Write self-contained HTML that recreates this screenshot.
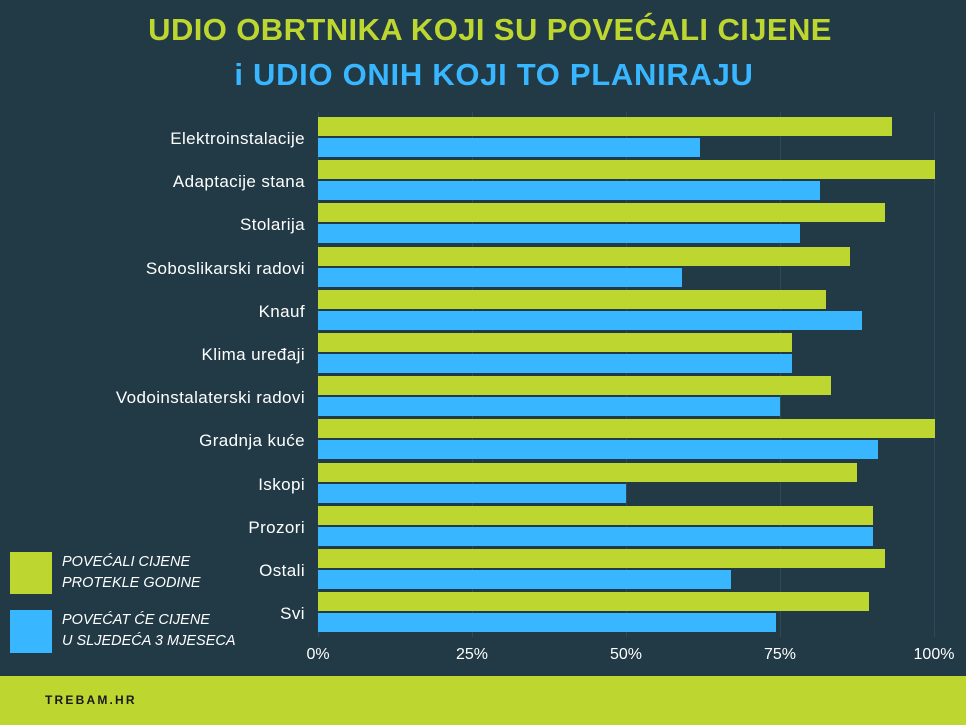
<!DOCTYPE html>
<html><head><meta charset="utf-8"><style>
body{margin:0;width:966px;height:725px;background:#213a46;position:relative;overflow:hidden;font-family:"Liberation Sans",sans-serif;}
.t{position:absolute;left:0;width:966px;text-align:center;font-family:"Liberation Sans",sans-serif;font-weight:bold;font-size:31px;}
.g{position:absolute;top:112px;height:525px;width:1px;background:#2e4a57;}
.b{position:absolute;height:19px;}
.gr{background:#bdd630}.bl{background:#38b6ff}
.lab{position:absolute;right:661px;color:#fff;font-size:17px;letter-spacing:0.4px;text-align:right;white-space:nowrap;}
.tk{position:absolute;top:646px;color:#fff;font-size:16px;width:60px;text-align:center;}
.leg{position:absolute;left:62px;color:#fff;font-family:"Liberation Sans",sans-serif;font-style:italic;font-size:14.5px;line-height:21px;}
</style></head><body>
<div class="t" style="top:12px;color:#bdd630;letter-spacing:0.4px;padding-left:14px;width:952px">UDIO OBRTNIKA KOJI SU POVEĆALI CIJENE</div>
<div class="t" style="top:57px;color:#38b6ff;letter-spacing:0.7px;padding-left:22px;width:944px">i UDIO ONIH KOJI TO PLANIRAJU</div>
<div class="g" style="left:318px"></div><div class="g" style="left:472px"></div><div class="g" style="left:626px"></div><div class="g" style="left:780px"></div><div class="g" style="left:934px"></div>
<div id="c"></div>
<div class="tk" style="left:288px">0%</div><div class="tk" style="left:442px">25%</div><div class="tk" style="left:596px">50%</div><div class="tk" style="left:750px">75%</div><div class="tk" style="left:904px">100%</div>
<div style="position:absolute;left:10px;top:552px;width:42px;height:42px;background:#bdd630"></div>
<div class="leg" style="top:552px">POVEĆALI CIJENE<br>PROTEKLE GODINE</div>
<div style="position:absolute;left:10px;top:610px;width:42px;height:43px;background:#38b6ff"></div>
<div class="leg" style="top:610px">POVEĆAT ĆE CIJENE<br>U SLJEDEĆA 3 MJESECA</div>
<div style="position:absolute;left:0;top:676px;width:966px;height:49px;background:#bdd630"></div>
<div style="position:absolute;left:45px;top:693px;font-family:'Liberation Sans',sans-serif;font-weight:bold;font-size:12px;letter-spacing:2.2px;color:#1a1a1a">TREBAM.HR</div>
<script>
var d=[["Elektroinstalacije",892,700],["Adaptacije stana",935,820],["Stolarija",885,800],["Soboslikarski radovi",850,682],["Knauf",826,862],["Klima uređaji",792,792],["Vodoinstalaterski radovi",831,780],["Gradnja kuće",935,878],["Iskopi",857,626],["Prozori",873,873],["Ostali",885,731],["Svi",869,776]];
var h="";d.forEach(function(r,i){var y=117+i*43.2;
h+='<div class="b gr" style="left:318px;top:'+y+'px;width:'+(r[1]-318)+'px"></div>';
h+='<div class="b bl" style="left:318px;top:'+(y+21)+'px;width:'+(r[2]-318)+'px"></div>';
h+='<div class="lab" style="top:'+(y+12)+'px">'+r[0]+'</div>';});
document.getElementById("c").innerHTML=h;
</script>
</body></html>
